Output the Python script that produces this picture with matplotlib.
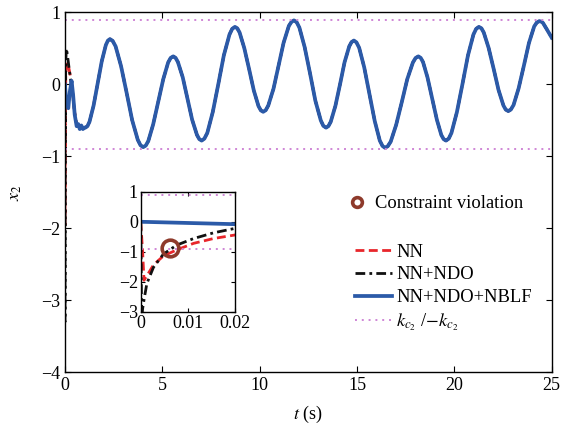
import matplotlib
matplotlib.use("Agg")
import matplotlib.pyplot as plt
from matplotlib.lines import Line2D

plt.rcParams['font.family'] = ['Liberation Serif', 'DejaVu Serif']
plt.rcParams['mathtext.fontset'] = 'stix'
plt.rcParams['axes.unicode_minus'] = True

# bound on x2
k_c2 = 0.9

# common tracking part after the start-up transient (t >= 1.05 s)
t_track = [1.05, 1.155, 1.26, 1.47, 1.68, 1.89, 2.10, 2.205,
           2.31, 2.45, 2.60, 2.88, 3.17, 3.45, 3.74, 3.88,
           4.02, 4.15, 4.28, 4.53, 4.79, 5.05, 5.30, 5.43,
           5.56, 5.68, 5.80, 6.05, 6.29, 6.53, 6.78, 6.90,
           7.02, 7.16, 7.31, 7.59, 7.88, 8.16, 8.45, 8.59,
           8.73, 8.85, 8.97, 9.21, 9.46, 9.70, 9.94, 10.06,
           10.18, 10.31, 10.44, 10.71, 10.97, 11.23, 11.50, 11.63,
           11.76, 11.90, 12.04, 12.31, 12.59, 12.86, 13.14, 13.27,
           13.41, 13.53, 13.65, 13.89, 14.13, 14.36, 14.60, 14.72,
           14.84, 14.97, 15.11, 15.37, 15.64, 15.91, 16.17, 16.31,
           16.44, 16.58, 16.73, 17.01, 17.30, 17.58, 17.87, 18.01,
           18.15, 18.27, 18.39, 18.62, 18.86, 19.10, 19.33, 19.45,
           19.57, 19.71, 19.85, 20.13, 20.42, 20.70, 20.98, 21.12,
           21.26, 21.39, 21.51, 21.76, 22.02, 22.27, 22.52, 22.64,
           22.77, 22.90, 23.04, 23.30, 23.57, 23.83, 24.10, 24.23,
           24.36, 24.47, 24.55, 24.74, 25.0]
x2_track = [-0.60, -0.579, -0.518, -0.293, 0.015, 0.323, 0.548, 0.609,
            0.63, 0.605, 0.53, 0.255, -0.12, -0.495, -0.77, -0.845,
            -0.87, -0.849, -0.786, -0.555, -0.24, 0.075, 0.306, 0.369,
            0.39, 0.37, 0.312, 0.098, -0.195, -0.488, -0.702, -0.76,
            -0.78, -0.753, -0.674, -0.385, 0.01, 0.405, 0.694, 0.773,
            0.80, 0.78, 0.721, 0.505, 0.21, -0.085, -0.301, -0.36,
            -0.38, -0.358, -0.294, -0.06, 0.26, 0.58, 0.814, 0.868,
            0.89, 0.865, 0.79, 0.52, 0.15, -0.225, -0.50, -0.575,
            -0.60, -0.579, -0.519, -0.298, 0.005, 0.308, 0.529, 0.589,
            0.61, 0.585, 0.51, 0.238, -0.135, -0.508, -0.78, -0.855,
            -0.88, -0.858, -0.795, -0.562, -0.245, 0.073, 0.305, 0.368,
            0.39, 0.37, 0.312, 0.098, -0.195, -0.488, -0.702, -0.76,
            -0.78, -0.753, -0.674, -0.385, 0.01, 0.405, 0.694, 0.773,
            0.80, 0.78, 0.722, 0.508, 0.215, -0.078, -0.292, -0.35,
            -0.37, -0.349, -0.286, -0.055, 0.26, 0.575, 0.806, 0.859,
            0.88, 0.872, 0.855, 0.77, 0.65]

# start-up transients of the three controllers
t_nn_start = [0, 0.0004, 0.0007, 0.0015, 0.0027, 0.0048, 0.0076, 0.0112,
              0.0154, 0.02, 0.04, 0.08, 0.14, 0.22, 0.30, 0.38, 0.46,
              0.55, 0.65, 0.80, 0.95]
x2_nn_start = [0, -1.0, -1.95, -1.75, -1.44, -1.14, -0.94, -0.72,
               -0.56, -0.44, 0.1, 0.28, 0.30, 0.20, 0.08, -0.05, -0.30,
               -0.50, -0.58, -0.60, -0.60]

t_ndo_start = [0, 0.0002, 0.0004, 0.0007, 0.0013, 0.0027, 0.0048, 0.0076,
               0.0112, 0.0154, 0.02, 0.04, 0.07, 0.12, 0.20, 0.30, 0.40,
               0.50, 0.60, 0.75, 0.90]
x2_ndo_start = [0, -3.3, -2.9, -2.6, -2.06, -1.52, -1.08, -0.78,
                -0.56, -0.37, -0.22, 0.30, 0.50, 0.42, 0.25, 0.05, -0.15,
                -0.40, -0.56, -0.60, -0.60]

t_nblf_start = [0, 0.02, 0.05, 0.10, 0.17, 0.25, 0.34, 0.42, 0.50,
                0.60, 0.68, 0.76, 0.84, 0.92, 1.0]
x2_nblf_start = [0, -0.08, -0.20, -0.30, -0.33, -0.10, 0.05, -0.15, -0.42,
                 -0.58, -0.55, -0.62, -0.57, -0.62, -0.60]

# where the NN / NN+NDO responses cross the lower bound
t_violation = 0.0062
x2_violation = -0.89

series = [
    (t_nn_start + t_track, x2_nn_start + x2_track,
     dict(color='#e8262b', ls=(0, (3.2, 1.6)), lw=2.0), 'NN'),
    (t_ndo_start + t_track, x2_ndo_start + x2_track,
     dict(color='#111111', ls=(0, (3.5, 1.5, 1, 1.5)), lw=2.0), 'NN+NDO'),
    (t_nblf_start + t_track, x2_nblf_start + x2_track,
     dict(color='#2b5aa8', ls='-', lw=2.7, solid_joinstyle='round'),
     'NN+NDO+NBLF'),
]
bound_style = dict(color='#cf86d6', ls=(0, (1, 2.5)), lw=1.4)
circle_style = dict(marker='o', mfc='none', mec='#8e3a2b', mew=2.6, ls='none')

fig = plt.figure(figsize=(5.64, 4.30), dpi=100)
ax = fig.add_axes([0.1152, 0.134, 0.8630, 0.837])

for t, x, style, name in series:
    ax.plot(t, x, label=name, **style)
ax.axhline(k_c2, label=r'$k_{c_2}$ /$-k_{c_2}$', **bound_style)
ax.axhline(-k_c2, **bound_style)

ax.set_xlim(0, 25)
ax.set_ylim(-4, 1)
ax.set_xticks([0, 5, 10, 15, 20, 25])
ax.set_yticks([-4, -3, -2, -1, 0, 1])
ax.tick_params(direction='in', top=True, right=True, labelsize=13,
               length=4, width=0.8)
for s in ax.spines.values():
    s.set_linewidth(1.0)
ax.set_xlabel(r'$t$ (s)', fontsize=13, labelpad=7)
ax.set_ylabel(r'$x_2$', fontsize=13, labelpad=12)

# legends
viol = ax.legend([Line2D([], [], markersize=7, **circle_style)],
                 ['Constraint violation'], loc='upper left',
                 bbox_to_anchor=(0.58, 0.492), frameon=False, fontsize=13.3,
                 borderpad=0, borderaxespad=0, handlelength=1.1,
                 handletextpad=0.4)
ax.add_artist(viol)
ax.legend(loc='upper left', bbox_to_anchor=(0.595, 0.357), frameon=False,
          fontsize=13.3, borderpad=0, borderaxespad=0, handlelength=2.05,
          handletextpad=0.2, labelspacing=0.3)

# zoomed view of the first 0.02 s
ins = fig.add_axes([0.2495, 0.275, 0.1672, 0.279])
for t, x, style, name in series:
    ins.plot(t, x, **style)
ins.axhline(k_c2, **bound_style)
ins.axhline(-k_c2, **bound_style)
ins.plot([t_violation], [x2_violation], markersize=12, **circle_style)
ins.set_xlim(0, 0.02)
ins.set_ylim(-3, 1)
ins.set_xticks([0, 0.01, 0.02])
ins.set_xticklabels(['0', '0.01', '0.02'])
ins.set_yticks([-3, -2, -1, 0, 1])
ins.tick_params(direction='in', top=True, right=True, labelsize=13,
                length=3, width=0.8, pad=2)
for s in ins.spines.values():
    s.set_linewidth(1.0)

fig.savefig('out.png', dpi=100)
